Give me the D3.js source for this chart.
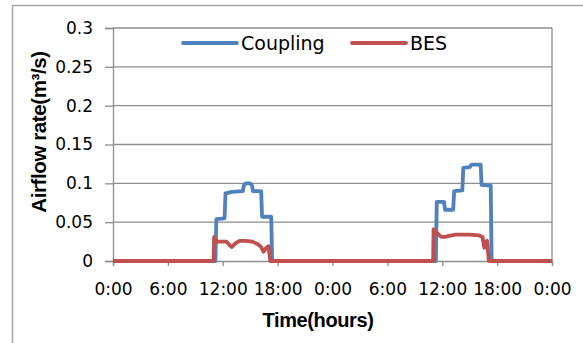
<!DOCTYPE html>
<html>
<head>
<meta charset="utf-8">
<script src="https://cdn.jsdelivr.net/npm/d3@7"></script>
<style>
  body { margin: 0; background: #fff; }
  svg { display: block; }
  .tick text { font-family: "DejaVu Sans", sans-serif; font-size: 17px; fill: #000; }
</style>
</head>
<body>
<svg id="chart" width="583" height="343"></svg>
<script>
// series: [hour, airflow m3/s]
const coupling = [
  [0, 0], [11.2, 0], [11.3, 0.054], [12.2, 0.055], [12.3, 0.087], [13.0, 0.089],
  [14.2, 0.09], [14.3, 0.097], [14.5, 0.1], [15.0, 0.1], [15.2, 0.097], [15.3, 0.09],
  [16.2, 0.09], [16.3, 0.057], [17.3, 0.057], [17.4, 0],
  [35.3, 0], [35.4, 0.076], [36.2, 0.076], [36.3, 0.066], [37.2, 0.066], [37.3, 0.09],
  [38.2, 0.091], [38.3, 0.12], [39.0, 0.121], [39.2, 0.124], [40.2, 0.124], [40.3, 0.098],
  [41.3, 0.097], [41.4, 0], [48, 0]
];
const bes = [
  [0, 0], [11.0, 0], [11.05, 0.031], [11.3, 0.025], [12.4, 0.025], [12.7, 0.021],
  [13.0, 0.018], [13.4, 0.023], [13.9, 0.026], [14.5, 0.026], [15.2, 0.025], [15.8, 0.022],
  [16.2, 0.018], [16.45, 0.012], [16.7, 0.016], [17.0, 0.019], [17.2, 0],
  [35.0, 0], [35.05, 0.041], [35.5, 0.035], [35.9, 0.031], [36.3, 0.031], [37.0, 0.033],
  [37.5, 0.034], [39.0, 0.034], [40.0, 0.033], [40.4, 0.031], [40.6, 0.017], [40.9, 0.026],
  [41.1, 0], [48, 0]
];
const seriesNames = ["Coupling", "BES"];
const seriesColors = ["#4F81BD", "#C0504D"];
const xTicks = [0, 6, 12, 18, 24, 30, 36, 42, 48];
const yTicks = [0, 0.05, 0.1, 0.15, 0.2, 0.25, 0.3];

const svg = d3.select("#chart");
const plot = { left: 113, right: 552, top: 28, bottom: 261 };
const gridColor = "#8e8e8e";

// outer chart frame (runs off the right/bottom edge)
svg.append("rect")
  .attr("x", 12.5).attr("y", 5.5)
  .attr("width", 620).attr("height", 400)
  .attr("fill", "none").attr("stroke", "#a6a6a6").attr("stroke-width", 1.5);

const x = d3.scaleLinear().domain([0, 48]).range([plot.left, plot.right]);
const y = d3.scaleLinear().domain([0, 0.3]).range([plot.bottom, plot.top]);

// gridlines
svg.append("g")
  .selectAll("line")
  .data(yTicks.slice(1))
  .join("line")
  .attr("x1", plot.left).attr("x2", plot.right)
  .attr("y1", d => y(d)).attr("y2", d => y(d))
  .attr("stroke", gridColor).attr("stroke-width", 1.3);

// right border of plot area
svg.append("line")
  .attr("x1", plot.right).attr("x2", plot.right)
  .attr("y1", plot.top).attr("y2", plot.bottom)
  .attr("stroke", gridColor).attr("stroke-width", 1.3);

const yAxis = svg.append("g")
  .attr("transform", `translate(${plot.left},0)`)
  .call(d3.axisLeft(y).tickValues(yTicks).tickSize(8).tickPadding(12)
    .tickFormat(d => d === 0 ? "0" : d3.format("")(+d.toFixed(2))));
yAxis.select(".domain").attr("stroke", gridColor).attr("stroke-width", 1.3);
yAxis.selectAll(".tick line").attr("stroke", gridColor).attr("stroke-width", 1.3);

const xAxis = svg.append("g")
  .attr("transform", `translate(0,${plot.bottom})`)
  .call(d3.axisBottom(x).tickValues(xTicks).tickSize(5).tickPadding(17)
    .tickFormat(d => (d % 24) + ":00"));
xAxis.select(".domain").attr("stroke", gridColor).attr("stroke-width", 1.3);
xAxis.selectAll(".tick line").attr("stroke", gridColor).attr("stroke-width", 1.3);

// lines
const line = d3.line().x(d => x(d[0])).y(d => y(d[1]));
[coupling, bes].forEach((s, i) => {
  svg.append("path")
    .datum(s)
    .attr("fill", "none")
    .attr("stroke", seriesColors[i])
    .attr("stroke-width", 3.8)
    .attr("stroke-linejoin", "round")
    .attr("d", line);
});

// legend
const legendX = [183, 352];
seriesNames.forEach((name, i) => {
  svg.append("line")
    .attr("x1", legendX[i]).attr("x2", legendX[i] + 54)
    .attr("y1", 43).attr("y2", 43)
    .attr("stroke", seriesColors[i]).attr("stroke-width", 3.8)
    .attr("stroke-linecap", "round");
  svg.append("text")
    .attr("x", legendX[i] + 58).attr("y", 50)
    .attr("font-family", "DejaVu Sans, sans-serif")
    .attr("font-size", 19)
    .text(name);
});

// axis titles
svg.append("text")
  .attr("transform", "translate(46,132) rotate(-90)")
  .attr("text-anchor", "middle")
  .attr("font-family", "Liberation Sans, Arial, sans-serif")
  .attr("font-weight", "bold")
  .attr("font-size", 20.5)
  .attr("letter-spacing", -0.4)
  .text("Airflow rate(m³/s)");

svg.append("text")
  .attr("x", 318).attr("y", 327)
  .attr("text-anchor", "middle")
  .attr("font-family", "Liberation Sans, Arial, sans-serif")
  .attr("font-weight", "bold")
  .attr("font-size", 20)
  .attr("letter-spacing", -0.4)
  .text("Time(hours)");
</script>
</body>
</html>
